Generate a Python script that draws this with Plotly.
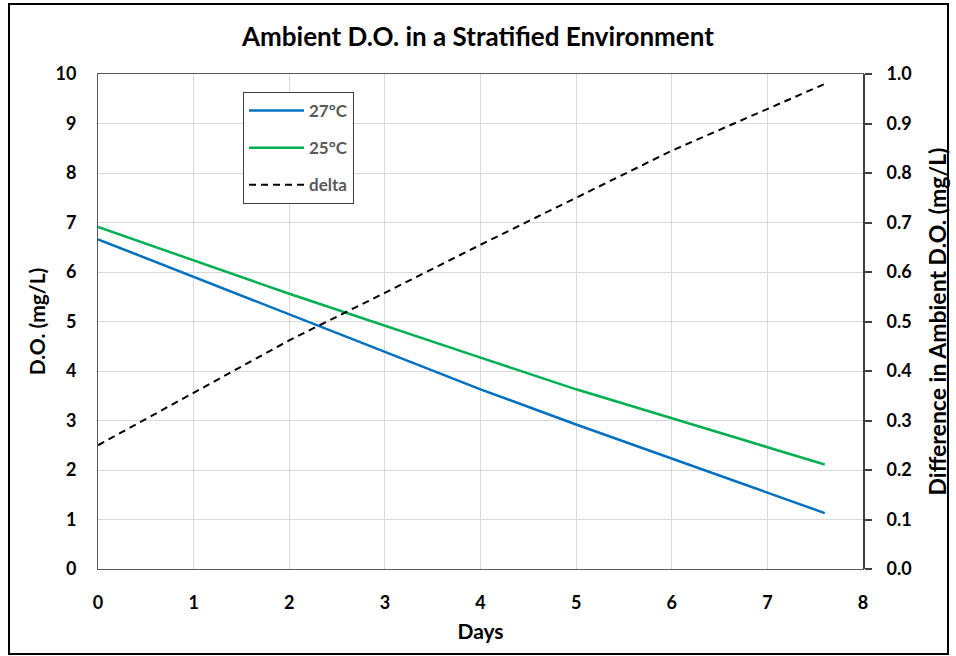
import plotly.graph_objects as go

# Data
days = [0, 2, 4, 5, 7.6]
do_27 = [6.66, 5.14, 3.63, 2.92, 1.13]
do_25 = [6.91, 5.56, 4.27, 3.63, 2.11]
delta_days = [0, 2, 3, 4, 6, 7.6]
delta = [0.25, 0.462, 0.558, 0.655, 0.845, 0.98]

x_ticks = [0, 1, 2, 3, 4, 5, 6, 7, 8]
y_ticks = [0, 1, 2, 3, 4, 5, 6, 7, 8, 9, 10]
y2_ticks = [0.0, 0.1, 0.2, 0.3, 0.4, 0.5, 0.6, 0.7, 0.8, 0.9, 1.0]

FONT = "Lato"
W, H = 956, 656
L, R, T, B = 98, 93, 74, 87

fig = go.Figure()
fig.add_trace(go.Scatter(x=days, y=do_27, mode="lines", name="27°C", legendgroup="a",
                         line=dict(color="#0070C0", width=2.5)))
fig.add_trace(go.Scatter(x=days, y=do_25, mode="lines", name="25°C", legendgroup="b",
                         line=dict(color="#00B050", width=2.5)))
fig.add_trace(go.Scatter(x=delta_days, y=delta, mode="lines", name="delta", legendgroup="c",
                         yaxis="y2", line=dict(color="black", width=2, dash="7px,5px")))

pw = W - L - R
ph = H - T - B

def px_x(p):
    return (p - L) / pw

def px_y(p):
    return (H - B - p) / ph

tickfont = dict(size=18, family=FONT, color="black", weight="bold")

fig.update_layout(
    width=W, height=H,
    margin=dict(l=L, r=R, t=T, b=B, autoexpand=False),
    paper_bgcolor="white", plot_bgcolor="white",
    font=dict(family=FONT, color="black"),
    title=dict(text="<b>Ambient D.O. in a Stratified Environment</b>",
               x=0.5, xanchor="center", y=1 - 37 / H, yanchor="middle",
               font=dict(size=26, family=FONT, color="black")),
    xaxis=dict(range=[0, 8], tickvals=x_ticks, showgrid=True, gridcolor="#d9d9d9", gridwidth=1,
               showline=True, linecolor="#595959", linewidth=1, mirror=True,
               ticks="outside", ticklen=0, ticklabelstandoff=17,
               tickfont=tickfont,
               title=dict(text="<b>Days</b>", font=dict(size=21, family=FONT), standoff=12),
               zeroline=False, fixedrange=True, automargin=False),
    yaxis=dict(range=[0, 10], tickvals=y_ticks, showgrid=True, gridcolor="#d9d9d9", gridwidth=1,
               showline=True, linecolor="#595959", linewidth=1, mirror=True,
               ticks="outside", ticklen=0, ticklabelstandoff=17,
               tickfont=tickfont,
               title=dict(text="<b>D.O. (mg/L)</b>", font=dict(size=21, family=FONT), standoff=4),
               zeroline=False, fixedrange=True, automargin=False),
    yaxis2=dict(range=[0, 1], tickvals=y2_ticks, tickformat=".1f", overlaying="y", side="right",
                showgrid=False, showline=True, linecolor="#404040", linewidth=2,
                ticks="outside", ticklen=7, tickcolor="#404040", tickwidth=1.5,
                ticklabelstandoff=11,
                tickfont=tickfont,
                title=dict(text="<b>Difference in Ambient D.O. (mg/L)</b>",
                           font=dict(size=23, family=FONT), standoff=19),
                zeroline=False, fixedrange=True, automargin=False),
    showlegend=True,
    legend=dict(x=px_x(243), y=px_y(92), xanchor="left", yanchor="top",
                bgcolor="white", bordercolor="#404040", borderwidth=1,
                font=dict(size=17, family=FONT, color="#595959", weight="bold"),
                tracegroupgap=12, itemwidth=55),
    shapes=[dict(type="rect", xref="paper", yref="paper",
                 x0=px_x(9), x1=px_x(948), y0=px_y(654), y1=px_y(4),
                 line=dict(color="black", width=2), fillcolor="rgba(0,0,0,0)", layer="below")],
)

fig.write_html("out.html", config={"displayModeBar": False},
               post_script="document.body.style.margin='0';document.body.style.overflow='hidden';")
